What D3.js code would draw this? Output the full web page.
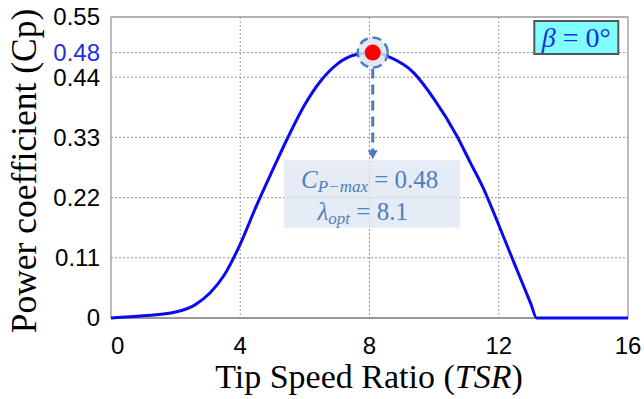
<!DOCTYPE html>
<html>
<head>
<meta charset="utf-8">
<script src="https://cdn.jsdelivr.net/npm/d3@7"></script>
<style>
  body { margin: 0; background: #fff; }
  svg { display: block; }
</style>
</head>
<body>
<div id="chart"></div>
<script>
// curve (tip speed ratio, power coefficient)
const tsr = [0, 1, 2, 2.6, 3.07, 3.5, 4, 4.5, 5, 5.5, 6, 6.5, 7, 7.5, 8.1, 8.64, 9.37, 10, 10.7, 11.12, 11.5, 12, 12.5, 13, 13.17, 14, 15, 16];
const cp  = [0, 0.004, 0.011, 0.024, 0.046, 0.078, 0.135, 0.205, 0.27, 0.333, 0.39, 0.434, 0.464, 0.48, 0.485, 0.476, 0.448, 0.4, 0.333, 0.284, 0.24, 0.17, 0.097, 0.025, 0, 0, 0, 0];

const xTicks = [0, 4, 8, 12, 16];
const yTicks = [0, 0.11, 0.22, 0.33, 0.44, 0.55];
const peakTsr = 8.1;
const peakCp = 0.485;
const peakLabel = '0.48';

const W = 644, H = 399;
const margin = { top: 17, right: 16, bottom: 81, left: 111 };
const width = W - margin.left - margin.right;
const height = H - margin.top - margin.bottom;

const svg = d3.select('#chart').append('svg')
  .attr('width', W)
  .attr('height', H);

const g = svg.append('g')
  .attr('transform', 'translate(' + margin.left + ',' + margin.top + ')');

const x = d3.scaleLinear().domain([0, 16]).range([0, width]);
const y = d3.scaleLinear().domain([0, 0.55]).range([height, 0]);

// grid
const grid = g.append('g').attr('stroke', '#999').attr('stroke-width', 1).attr('stroke-dasharray', '2,2');
grid.selectAll('.gx').data(xTicks.slice(1, -1)).enter().append('line')
  .attr('x1', d => x(d)).attr('x2', d => x(d))
  .attr('y1', 0).attr('y2', height);
grid.selectAll('.gy').data(yTicks.slice(1, -1).concat([peakCp])).enter().append('line')
  .attr('x1', 0).attr('x2', width)
  .attr('y1', d => y(d)).attr('y2', d => y(d));

// frame
g.append('path')
  .attr('d', 'M0,' + height + 'V0H' + width + 'V' + height)
  .attr('fill', 'none').attr('stroke', '#999').attr('stroke-width', 1.3);
g.append('line')
  .attr('x1', 0).attr('x2', width).attr('y1', height).attr('y2', height)
  .attr('stroke', '#777').attr('stroke-width', 1.3);

// axes labels
const tickFont = '"Liberation Sans", Arial, sans-serif';
g.selectAll('.xt').data(xTicks).enter().append('text')
  .attr('x', d => x(d))
  .attr('y', height + 36)
  .attr('text-anchor', (d, i) => i === 0 ? 'start' : 'middle')
  .attr('font-family', tickFont).attr('font-size', 24)
  .text(d => d);

g.selectAll('.yt').data(yTicks).enter().append('text')
  .attr('x', -11)
  .attr('y', d => y(d))
  .attr('dy', '0.35em')
  .attr('text-anchor', 'end')
  .attr('font-family', tickFont).attr('font-size', 24)
  .text(d => d === 0 ? '0' : d3.format('.2f')(d));

g.append('text')
  .attr('x', -11).attr('y', y(peakCp)).attr('dy', '0.35em')
  .attr('text-anchor', 'end')
  .attr('font-family', tickFont).attr('font-size', 24)
  .attr('fill', '#1f2ee0')
  .text(peakLabel);

const serif = '"Liberation Serif", "Times New Roman", serif';
svg.append('text')
  .attr('x', 369)
  .attr('y', 388)
  .attr('text-anchor', 'middle')
  .attr('font-family', serif).attr('font-size', 34)
  .call(t => {
    t.append('tspan').text('Tip Speed Ratio (');
    t.append('tspan').attr('font-style', 'italic').text('TSR');
    t.append('tspan').text(')');
  });

svg.append('text')
  .attr('transform', 'translate(36,171) rotate(-90)')
  .attr('text-anchor', 'middle')
  .attr('font-family', serif).attr('font-size', 35.5)
  .text('Power coefficient (Cp)');

// curve
const pts = tsr.map((t, i) => [t, cp[i]]);
g.append('path')
  .datum(pts)
  .attr('fill', 'none')
  .attr('stroke', '#0a0af0')
  .attr('stroke-width', 3)
  .attr('d', d3.line().x(d => x(d[0])).y(d => y(d[1])).curve(d3.curveMonotoneX));

// highlight around the peak
const px = x(peakTsr), py = y(peakCp);
g.append('circle')
  .attr('cx', px).attr('cy', py).attr('r', 15)
  .attr('fill', '#dce6f2').attr('fill-opacity', 0.85)
  .attr('stroke', '#4a7ebb').attr('stroke-width', 2.5)
  .attr('stroke-dasharray', '9,5');

// arrow down to the note
const arrowEnd = y(0.29);
g.append('line')
  .attr('x1', px).attr('x2', px)
  .attr('y1', py + 16).attr('y2', arrowEnd - 8)
  .attr('stroke', '#4a7ebb').attr('stroke-width', 3)
  .attr('stroke-dasharray', '10,6');
g.append('path')
  .attr('d', 'M' + (px - 5) + ',' + (arrowEnd - 9) + 'L' + (px + 5) + ',' + (arrowEnd - 9) + 'L' + px + ',' + arrowEnd + 'Z')
  .attr('fill', '#4a7ebb');

g.append('circle')
  .attr('cx', px).attr('cy', py).attr('r', 8)
  .attr('fill', '#ff0000');

// note box
const note = g.append('g');
note.append('rect')
  .attr('x', x(5.35)).attr('y', arrowEnd + 1)
  .attr('width', x(10.8) - x(5.35)).attr('height', y(0.165) - arrowEnd - 1)
  .attr('fill', '#dce6f2').attr('fill-opacity', 0.75);

const noteColor = '#4f7fbd';
note.append('text')
  .attr('x', px - 3).attr('y', arrowEnd + 29)
  .attr('text-anchor', 'middle')
  .attr('font-family', serif).attr('font-size', 25).attr('fill', noteColor)
  .call(t => {
    t.append('tspan').attr('font-style', 'italic').text('C');
    t.append('tspan').attr('font-style', 'italic').attr('font-size', 17).attr('dy', 4).text('P−max');
    t.append('tspan').attr('dy', -4).text(' = 0.48');
  });
note.append('text')
  .attr('x', px - 10).attr('y', arrowEnd + 61)
  .attr('text-anchor', 'middle')
  .attr('font-family', serif).attr('font-size', 25).attr('fill', noteColor)
  .call(t => {
    t.append('tspan').attr('font-style', 'italic').text('λ');
    t.append('tspan').attr('font-style', 'italic').attr('font-size', 17).attr('dy', 4).text('opt');
    t.append('tspan').attr('dy', -4).text(' = 8.1');
  });

// beta box
const bx = x(13.1), by = 4;
g.append('rect')
  .attr('x', bx).attr('y', by)
  .attr('width', x(15.7) - bx).attr('height', 33)
  .attr('fill', '#80fdfd').attr('stroke', '#555').attr('stroke-width', 2);
g.append('text')
  .attr('x', (bx + x(15.7)) / 2).attr('y', by + 26)
  .attr('text-anchor', 'middle')
  .attr('font-family', serif).attr('font-size', 28).attr('fill', '#1c30e0')
  .call(t => {
    t.append('tspan').attr('font-style', 'italic').text('β');
    t.append('tspan').text(' = 0°');
  });
</script>
</body>
</html>
